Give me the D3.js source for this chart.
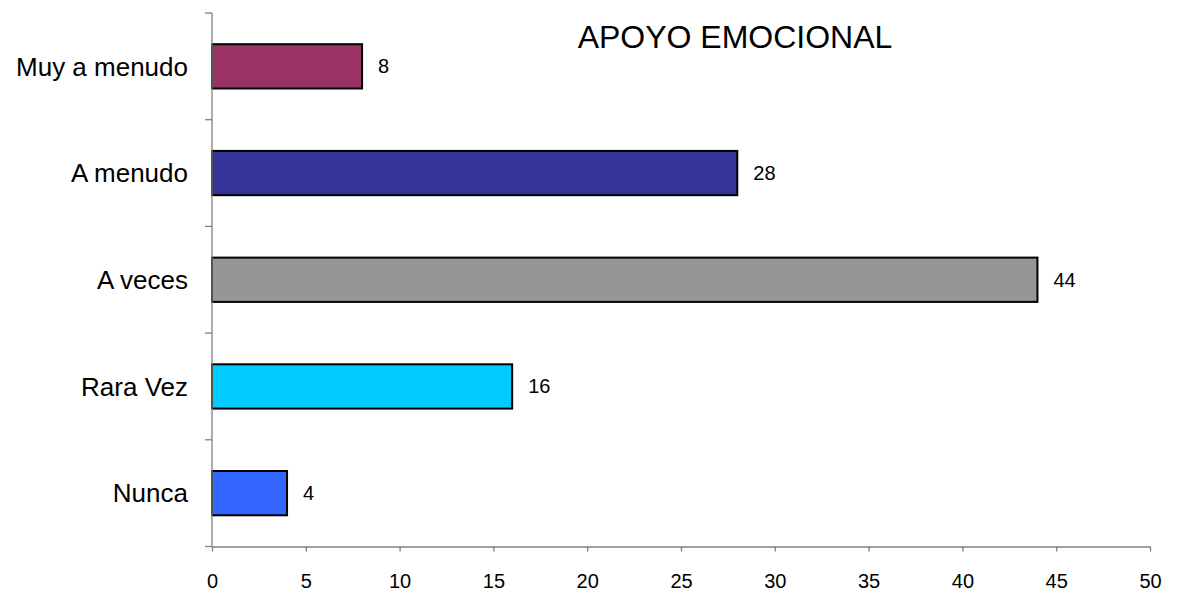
<!DOCTYPE html>
<html><head><meta charset="utf-8">
<script src="https://cdn.jsdelivr.net/npm/d3@7"></script>
<style>body{margin:0;background:#fff}svg{display:block}</style>
</head><body>
<svg id="c" width="1181" height="597"></svg>
<script>
const categories = ["Muy a menudo","A menudo","A veces","Rara Vez","Nunca"];
const values = [8,28,44,16,4];
const colors = ["#993366","#333399","#969696","#00CCFF","#3366FF"];
const xTicks = [0,5,10,15,20,25,30,35,40,45,50];
const title = "APOYO EMOCIONAL";

const svg = d3.select("#c");
const font = "Arial, 'Liberation Sans', sans-serif";
const x = d3.scaleLinear().domain([0,50]).range([212,1150]);
const y = d3.scaleBand().domain(categories).range([13,546.5]).padding(0);
const barH = y.bandwidth()*0.415;

// bars
svg.selectAll("rect.bar").data(values).enter().append("rect")
  .attr("x", x(0))
  .attr("y", (d,i)=> y(categories[i]) + (y.bandwidth()-barH)/2)
  .attr("width", d=> x(d)-x(0))
  .attr("height", barH)
  .attr("fill", (d,i)=>colors[i])
  .attr("stroke","#000").attr("stroke-width",2);

// value labels
svg.selectAll("text.val").data(values).enter().append("text")
  .attr("x", d=> x(d)+16)
  .attr("y", (d,i)=> y(categories[i]) + y.bandwidth()/2 + 7)
  .attr("font-family", font).attr("font-size", 20).attr("fill","#000")
  .text(d=>d);

// y axis line + ticks at band boundaries
const axisColor = "#808080";
svg.append("line").attr("x1",x(0)).attr("x2",x(0)).attr("y1",13).attr("y2",546.5)
  .attr("stroke",axisColor).attr("stroke-width",1.3);
const bounds = categories.map(c=>y(c)).concat([y.range()[1]]);
svg.selectAll("line.yt").data(bounds).enter().append("line")
  .attr("x1",x(0)-7).attr("x2",x(0)).attr("y1",d=>d).attr("y2",d=>d)
  .attr("stroke",axisColor).attr("stroke-width",1.3);

// category labels
svg.selectAll("text.cat").data(categories).enter().append("text")
  .attr("x",188).attr("y", c=> y(c)+y.bandwidth()/2 + 9.3)
  .attr("text-anchor","end")
  .attr("font-family", font).attr("font-size", 26).attr("fill","#000")
  .text(c=>c);

// x axis
const xAxis = d3.axisBottom(x).tickValues(xTicks).tickSize(5).tickSizeOuter(0).tickPadding(22);
const gx = svg.append("g").attr("transform","translate(0,546.5)").call(xAxis);
gx.attr("font-size",20).attr("font-family",font);
gx.select(".domain").attr("stroke",axisColor).attr("stroke-width",1.3);
gx.selectAll(".tick line").attr("stroke",axisColor).attr("stroke-width",1.3);
gx.selectAll(".tick text").attr("font-family",font).attr("font-size",20).attr("fill","#000");

// title
svg.append("text").attr("x",735).attr("y",47.5).attr("text-anchor","middle")
  .attr("font-family",font).attr("font-size",32).attr("fill","#000").text(title);
</script>
</body></html>
